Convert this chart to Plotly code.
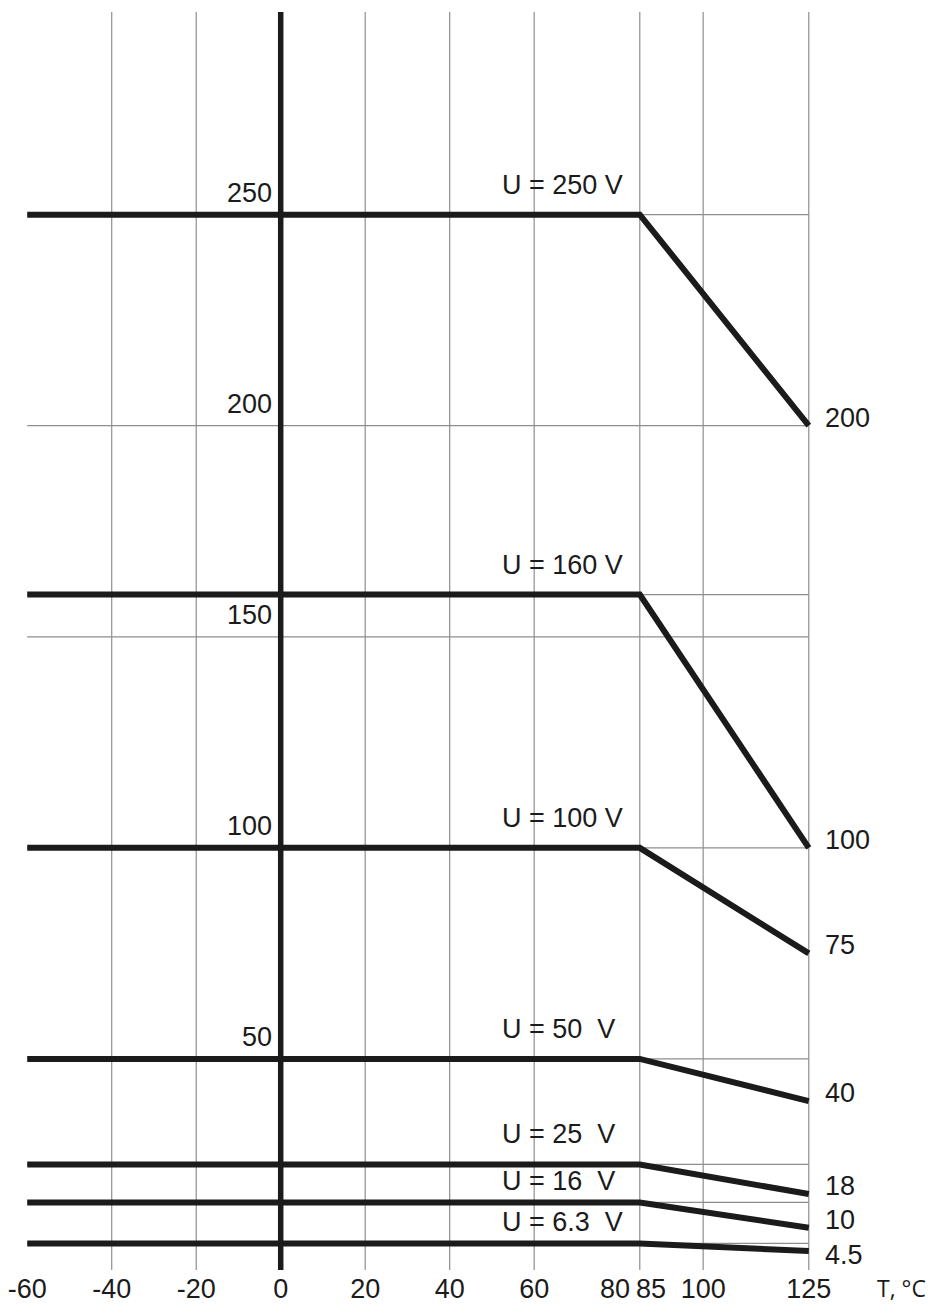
import plotly.graph_objects as go

# ---- data ----
T_POINTS = [-60, 85, 125]                       # °C, knee at 85, end at 125
U_RATED = [250, 160, 100, 50, 25, 16, 6.3]      # rated voltage, V
U_AT_125 = [200, 100, 75, 40, 18, 10, 4.5]      # allowed voltage at 125 °C, V
RATED_LABELS = ["U = 250 V", "U = 160 V", "U = 100 V", "U = 50  V",
                "U = 25  V", "U = 16  V", "U = 6.3  V"]
END_LABELS = ["200", "100", "75", "40", "18", "10", "4.5"]
Y_LABELS = [250, 200, 150, 100, 50]
X_TICKS = [-60, -40, -20, 0, 20, 40, 60, 80, 85, 100, 125]
X_TICKTEXT = ["-60", "-40", "-20", "0", "20", "40", "60", "80", "85", "100", "125"]
X_GRID = [-40, -20, 20, 40, 60, 85, 100, 125]
Y_GRID = [250, 200, 160, 150, 100, 50, 25, 16, 6.3]

FONT = "Liberation Sans, Arial, sans-serif"
FS = 27
INK = "#1b1b1b"
GRID = "#8e8e8e"
LABEL_X = 52          # where the "U = ..." labels start
LIFT = {16: 4, 6.3: 4}  # the low curves sit close together, labels go lower

fig = go.Figure()

# gridlines
for v in X_GRID:
    fig.add_vline(x=v, line=dict(color=GRID, width=1.2), layer="below")
for v in Y_GRID:
    fig.add_shape(type="line", x0=T_POINTS[0], x1=T_POINTS[-1], y0=v, y1=v,
                  line=dict(color=GRID, width=1.2), layer="below")
fig.add_vline(x=0, line=dict(color=INK, width=5.5))

# derating curves
for u, u_end, lab in zip(U_RATED, U_AT_125, RATED_LABELS):
    fig.add_trace(go.Scatter(
        x=T_POINTS, y=[u, u, u_end], mode="lines",
        line=dict(color=INK, width=6), name=lab, showlegend=False,
        hoverinfo="skip",
    ))
    fig.add_annotation(x=LABEL_X, y=u, text=lab.replace("  ", "\u00a0\u00a0"),
                       xanchor="left", yanchor="bottom", yshift=LIFT.get(u, 13),
                       showarrow=False, font=dict(family=FONT, size=FS, color=INK))

# end values at 125 °C
for u_end, lab in zip(U_AT_125, END_LABELS):
    fig.add_annotation(x=T_POINTS[-1], y=u_end, text=lab, xanchor="left",
                       yanchor="middle", xshift=14, yshift=(-4 if u_end < 6 else 8),
                       showarrow=False, font=dict(family=FONT, size=FS, color=INK))

# y labels along the 0 °C axis
for v in Y_LABELS:
    fig.add_annotation(x=0, y=v, text=str(v), xanchor="right", yanchor="bottom",
                       xshift=-7, yshift=5, showarrow=False,
                       font=dict(family=FONT, size=FS, color=INK))

fig.add_annotation(xref="paper", yref="paper", x=1.079, y=-0.014, text="T, °C",
                   xanchor="left", yanchor="middle", showarrow=False,
                   font=dict(family="Open Sans, Noto Sans, sans-serif", size=23, color=INK))

# keep 80 and 85 apart the way the sheet prints them
ticktext = list(X_TICKTEXT)
ticktext[X_TICKS.index(80)] = "80\u00a0"
ticktext[X_TICKS.index(85)] = "\u00a0\u00a0\u00a085"

# page body adds an 8 px margin, so the figure is sized to fit inside the window
fig.update_layout(
    width=928, height=1297,
    margin=dict(l=15, r=123, t=4, b=35, autoexpand=False),
    paper_bgcolor="white", plot_bgcolor="white",
    showlegend=False,
    xaxis=dict(range=[-61, 126], tickvals=X_TICKS, ticktext=ticktext,
               tickangle=0, automargin=False, ticklabeloverflow="allow",
               showgrid=False, zeroline=False, showline=False, ticks="",
               tickfont=dict(family=FONT, size=FS, color=INK), fixedrange=True),
    yaxis=dict(range=[0, 298], showgrid=False, zeroline=False, showline=False,
               showticklabels=False, ticks="", automargin=False, fixedrange=True),
)

fig.write_html("out.html")
